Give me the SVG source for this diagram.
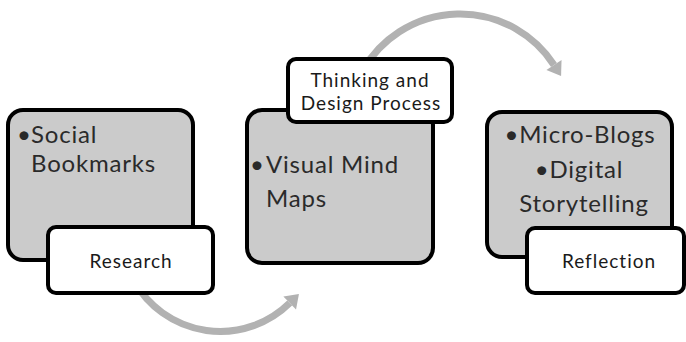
<svg xmlns="http://www.w3.org/2000/svg" width="686" height="342" viewBox="0 0 686 342">
  <style>
    .stage { fill: #cbcbcb; stroke: #000; stroke-width: 4; }
    .tag { fill: #fff; stroke: #000; stroke-width: 4; }
    .body { font-family: Lato, "Open Sans", sans-serif; font-size: 24px; letter-spacing: 0.8px; fill: #2a2a2a; }
    .label { font-family: Lato, "Open Sans", sans-serif; font-size: 19px; letter-spacing: 1px; fill: #1a1a1a; text-anchor: middle; }
    .flow { fill: none; stroke: #b2b2b2; stroke-width: 7; marker-end: url(#head); }
  </style>
  <defs>
    <marker id="head" markerUnits="userSpaceOnUse" markerWidth="20" markerHeight="20" refX="0" refY="0" viewBox="0 -10 14 20" orient="auto" overflow="visible">
      <path d="M0,-9 L13,0 L0,9 z" fill="#b2b2b2"/>
    </marker>
  </defs>

  <!-- connectors: curved arrows between stages -->
  <g id="connectors">
    <path class="flow" d="M 134,281 A 99 99 0 0 0 289.7,303"/>
    <path class="flow" d="M 363,70 A 112 112 0 0 1 554,65"/>
  </g>

  <!-- stage 1 -->
  <g id="research">
    <rect class="stage" x="8" y="110" width="185" height="150" rx="15"/>
    <text class="body" x="17" y="143">•</text>
    <text class="body" x="31" y="143">Social</text>
    <text class="body" x="31" y="172">Bookmarks</text>
    <rect class="tag" x="48" y="227" width="165" height="66" rx="8"/>
    <text class="label" x="131" y="268">Research</text>
  </g>

  <!-- stage 2 -->
  <g id="thinking">
    <rect class="stage" x="247" y="110" width="186" height="153" rx="15"/>
    <text class="body" x="250" y="173">•</text>
    <text class="body" x="266" y="173">Visual Mind</text>
    <text class="body" x="266" y="207">Maps</text>
    <rect class="tag" x="288" y="59" width="164" height="63" rx="8"/>
    <text class="label" x="370" y="87">Thinking and</text>
    <text class="label" x="371" y="110">Design Process</text>
  </g>

  <!-- stage 3 -->
  <g id="reflection">
    <rect class="stage" x="487" y="112" width="185" height="145" rx="15"/>
    <text class="body" x="580" y="143" text-anchor="middle">•Micro-Blogs</text>
    <text class="body" x="579" y="178" text-anchor="middle">•Digital</text>
    <text class="body" x="584" y="212" text-anchor="middle">Storytelling</text>
    <rect class="tag" x="527" y="228" width="157" height="65" rx="8"/>
    <text class="label" x="609" y="268">Reflection</text>
  </g>
</svg>
